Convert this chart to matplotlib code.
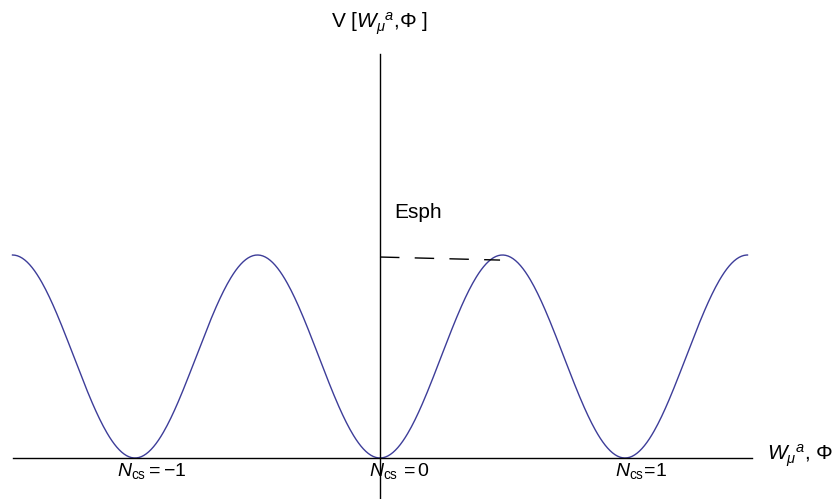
import numpy as np
import matplotlib
matplotlib.use("Agg")
import matplotlib.pyplot as plt

plt.rcParams['font.family'] = ['Liberation Sans', 'DejaVu Sans']
plt.rcParams['mathtext.fontset'] = 'custom'
plt.rcParams['mathtext.rm'] = 'Liberation Sans'
plt.rcParams['mathtext.it'] = 'Liberation Sans:italic'

# vacua labelled by Chern-Simons number, barrier height = sphaleron energy
ncs_values = [-1, 0, 1]
ncs_labels = [r'$N_{\rm cs}=-1$', r'$N_{\rm cs}\,=0$', r'$N_{\rm cs}\!=\!1$']
esph = 1.0
x_range = [-1.5, 1.5]
# dashed marker from the axis to the barrier top
dash_x = [0.0, 0.49]
dash_y = [0.99, 0.975]

x = np.linspace(x_range[0], x_range[1], 600)
v = esph * np.sin(np.pi * x) ** 2

fig = plt.figure(figsize=(8.38, 4.99), dpi=100)
ax = fig.add_axes([0, 0, 1, 1])
ax.set_xlim(-380 / 245, 458 / 245)
ax.set_ylim(-41 / 203, 458 / 203)
ax.axis('off')

ax.plot(x, v, color='#3d3d99', lw=1.0)

# axes drawn by hand
ax.plot([-1.5, 1.52], [0, 0], color='black', lw=1.0)
ax.plot([0, 0], [-0.3, 1.99], color='black', lw=1.0)

ax.plot(dash_x, dash_y, color='black', lw=1.0, dashes=(14, 11))

ax.text(0.06, 1.21, 'Esph', fontsize=15, ha='left', va='center')
ax.text(0, 2.14, r'V [$W_{\mu}{}^{a}$,$\Phi$ ]', fontsize=15, ha='center', va='center')
ax.text(1.58, 0.01, r'$W_{\mu}{}^{a}$, $\Phi$', fontsize=15, ha='left', va='center')

offsets = [0.07, 0.08, 0.065]
for n, lab, off in zip(ncs_values, ncs_labels, offsets):
    ax.text(n + off, -0.065, lab, fontsize=14, ha='center', va='center')

fig.savefig('out.png', dpi=100)
